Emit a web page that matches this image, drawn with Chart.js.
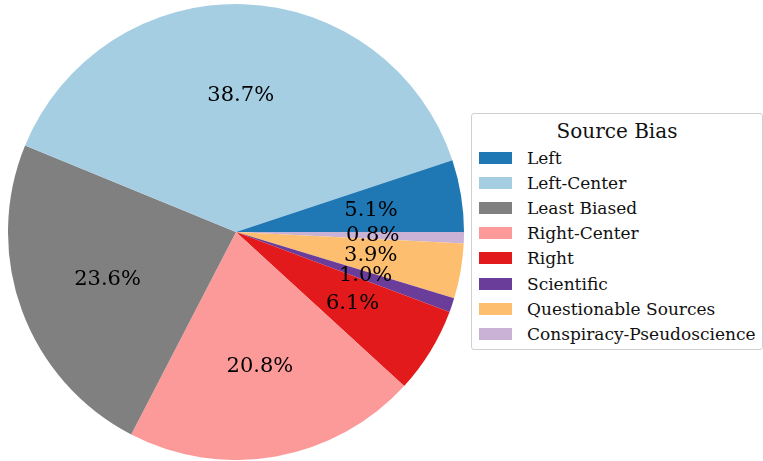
<!DOCTYPE html>
<html>
<head>
<meta charset="utf-8">
<script src="https://cdn.jsdelivr.net/npm/chart.js@4/dist/chart.umd.min.js"></script>
<style>
    body { margin: 0; background: #fff; width: 763px; height: 461px; overflow: hidden; position: relative; font-family: 'DejaVu Serif', serif; }
    #pie-wrap { position: absolute; left: 8px; top: 4px; width: 456px; height: 456px; }
    .legend { position: absolute; left: 471px; top: 113px; width: 292px; height: 237px; border: 1px solid #d0d0d0; border-radius: 3px; background: #fff; box-sizing: border-box; }
    .legend-title { margin-top: 4px; height: 27px; line-height: 27px; text-align: center; font-size: 20px; color: #111; }
    .legend-row { height: 25.2px; display: flex; align-items: center; font-size: 17px; color: #111; white-space: nowrap; }
    .legend-patch { flex: none; width: 33px; height: 12px; margin-left: 7px; margin-right: 15px; }
</style>
</head>
<body>
<div id="pie-wrap"><canvas id="canvas-bias" width="456" height="456"></canvas></div>
<div class="legend" id="legend"></div>
<script>
const legend_title = 'Source Bias'
const categories = ['Left','Left-Center','Least Biased','Right-Center','Right','Scientific','Questionable Sources','Conspiracy-Pseudoscience']
const shares = [5.1, 38.7, 23.6, 20.8, 6.1, 1.0, 3.9, 0.8]
const COLORS = ['#1f78b4','#a6cee3','#808080','#fb9a99','#e31a1c','#6a3d9a','#fdbf6f','#cab2d6']

// matplotlib goes counter-clockwise from 3 o'clock, chart.js goes clockwise,
// so feed the slices reversed and start at 90 degrees
const rev_labels = categories.slice().reverse()
const rev_values = shares.slice().reverse()
const rev_colors = COLORS.slice().reverse()

const pct_labels = {
    id: 'pct_labels',
    afterDatasetsDraw(chart){
        const ctx = chart.ctx
        const meta = chart.getDatasetMeta(0)
        ctx.save()
        ctx.font = '21px "DejaVu Serif"'
        ctx.fillStyle = '#000'
        ctx.textAlign = 'center'
        ctx.textBaseline = 'middle'
        meta.data.forEach((arc,i)=>{
            const p = arc.getProps(['x','y','startAngle','endAngle','outerRadius'],true)
            const mid = (p.startAngle + p.endAngle) / 2
            const r = p.outerRadius * 0.6
            ctx.fillText(rev_values[i].toFixed(1) + '%', p.x + r*Math.cos(mid), p.y + r*Math.sin(mid))
        })
        ctx.restore()
    }
}

new Chart(document.getElementById('canvas-bias').getContext('2d'),{
    type: 'pie',
    data: {
        labels: rev_labels,
        datasets: [{ data: rev_values, backgroundColor: rev_colors, borderWidth: 0 }]
    },
    options: {
        responsive: false,
        animation: false,
        rotation: 90,
        layout: { padding: 0 },
        plugins: { legend: { display: false }, tooltip: { enabled: false } }
    },
    plugins: [pct_labels]
})

// legend box in the original order
const legend = document.getElementById('legend')
legend.innerHTML = `<div class="legend-title">${legend_title}</div>` + categories.map((name,i)=>`
    <div class="legend-row"><span class="legend-patch" style="background:${COLORS[i]}"></span>${name}</div>`).join('')
</script>
</body>
</html>
